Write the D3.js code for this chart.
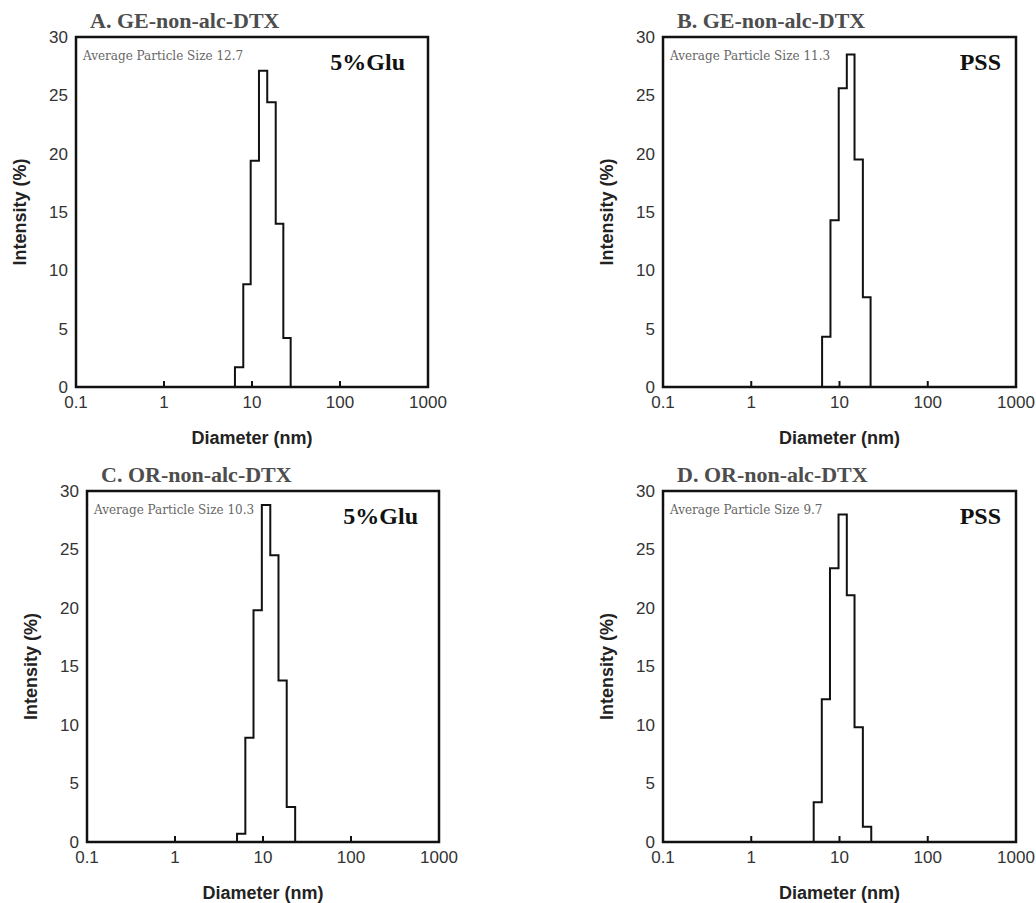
<!DOCTYPE html>
<html>
<head>
<meta charset="utf-8">
<script src="https://cdn.jsdelivr.net/npm/d3@7"></script>
<style>
  body { margin: 0; background: #fff; }
  svg { display: block; }
</style>
</head>
<body>
<div id="chart"></div>
<script>
// panel texts
const panelTitles = ['A. GE-non-alc-DTX', 'B. GE-non-alc-DTX', 'C. OR-non-alc-DTX', 'D. OR-non-alc-DTX'];
const avgSizes = ['12.7', '11.3', '10.3', '9.7'];
const media = ['5%Glu', 'PSS', '5%Glu', 'PSS'];

// bin edges (nm) and intensity (%)
const edgesA = [6.4, 7.96, 9.66, 12.0, 14.9, 18.6, 22.7, 27.5];
const intensityA = [1.7, 8.8, 19.4, 27.1, 24.4, 14.0, 4.2];
const edgesB = [6.35, 7.9, 9.8, 12.1, 14.8, 18.4, 22.5];
const intensityB = [4.3, 14.3, 25.6, 28.5, 19.5, 7.7];
const edgesC = [5.07, 6.3, 7.8, 9.7, 12.1, 15.0, 18.6, 23.2];
const intensityC = [0.7, 8.9, 19.8, 28.8, 24.5, 13.8, 3.0];
const edgesD = [5.1, 6.3, 7.8, 9.75, 12.1, 14.8, 18.4, 22.9];
const intensityD = [3.4, 12.2, 23.4, 28.0, 21.1, 9.8, 1.3];

const xTicks = [0.1, 1, 10, 100, 1000];
const yTicks = [0, 5, 10, 15, 20, 25, 30];

const W = 1036, H = 903;

// where each plot frame sits (mediaPad = gap between medium label and right edge)
const frames = [
  {left: 76, top: 37, w: 352, h: 350, mediaPad: 23},
  {left: 663, top: 37, w: 353, h: 350, mediaPad: 15},
  {left: 87, top: 491, w: 352, h: 351, mediaPad: 21},
  {left: 663, top: 491, w: 353, h: 351, mediaPad: 15}
];

const series = [
  {edges: edgesA, vals: intensityA},
  {edges: edgesB, vals: intensityB},
  {edges: edgesC, vals: intensityC},
  {edges: edgesD, vals: intensityD}
];

const svg = d3.select('#chart').append('svg')
  .attr('width', W)
  .attr('height', H);

const sans = 'Liberation Sans, Arial, sans-serif';
const serif = 'Liberation Serif, Times New Roman, serif';

frames.forEach((f, i) => {
  const x = d3.scaleLog().domain([0.1, 1000]).range([0, f.w]);
  const y = d3.scaleLinear().domain([0, 30]).range([f.h, 0]);

  const g = svg.append('g').attr('transform', `translate(${f.left},${f.top})`);

  // histogram envelope
  const s = series[i];
  const pts = [[s.edges[0], 0]];
  s.vals.forEach((v, k) => {
    pts.push([s.edges[k], v]);
    pts.push([s.edges[k + 1], v]);
  });
  pts.push([s.edges[s.edges.length - 1], 0]);

  const line = d3.line().x(d => x(d[0])).y(d => y(d[1]));
  g.append('path')
    .attr('d', line(pts))
    .attr('fill', 'none')
    .attr('stroke', '#111')
    .attr('stroke-width', 2);

  // inward ticks on bottom axis
  g.selectAll('.xtick')
    .data(xTicks.slice(1, -1))
    .enter().append('line')
    .attr('x1', d => x(d)).attr('x2', d => x(d))
    .attr('y1', f.h).attr('y2', f.h - 6)
    .attr('stroke', '#111')
    .attr('stroke-width', 2);

  // frame
  g.append('rect')
    .attr('width', f.w).attr('height', f.h)
    .attr('fill', 'none')
    .attr('stroke', '#111')
    .attr('stroke-width', 2.5);

  // tick labels
  g.selectAll('.xl')
    .data(xTicks)
    .enter().append('text')
    .attr('x', d => x(d))
    .attr('y', f.h + 21)
    .attr('text-anchor', 'middle')
    .style('font-family', sans)
    .style('font-size', '17px')
    .style('fill', '#333')
    .text(d => d);

  g.selectAll('.yl')
    .data(yTicks)
    .enter().append('text')
    .attr('x', -8)
    .attr('y', d => y(d))
    .attr('dy', '0.35em')
    .attr('text-anchor', 'end')
    .style('font-family', sans)
    .style('font-size', '17px')
    .style('fill', '#333')
    .text(d => d);

  // axis titles
  g.append('text')
    .attr('x', f.w / 2)
    .attr('y', f.h + 57)
    .attr('text-anchor', 'middle')
    .style('font-family', sans)
    .style('font-size', '18px')
    .style('font-weight', 'bold')
    .style('fill', '#222')
    .text('Diameter (nm)');

  g.append('text')
    .attr('transform', `translate(-56,${f.h / 2}) rotate(-90)`)
    .attr('text-anchor', 'middle')
    .attr('dy', '0.35em')
    .style('font-family', sans)
    .style('font-size', '18px')
    .style('font-weight', 'bold')
    .style('fill', '#222')
    .text('Intensity (%)');

  // panel title
  g.append('text')
    .attr('x', 14)
    .attr('y', -9)
    .style('font-family', serif)
    .style('font-size', '22px')
    .style('font-weight', 'bold')
    .style('fill', '#4d4d4d')
    .text(panelTitles[i]);

  g.append('text')
    .attr('x', 7)
    .attr('y', 23)
    .style('font-family', 'DejaVu Serif, serif')
    .style('font-size', '12px')
    .style('fill', '#666')
    .text('Average Particle Size ' + avgSizes[i]);

  g.append('text')
    .attr('x', f.w - f.mediaPad)
    .attr('y', 33)
    .attr('text-anchor', 'end')
    .style('font-family', serif)
    .style('font-size', '24px')
    .style('font-weight', 'bold')
    .style('fill', '#111')
    .text(media[i]);
});
</script>
</body>
</html>
